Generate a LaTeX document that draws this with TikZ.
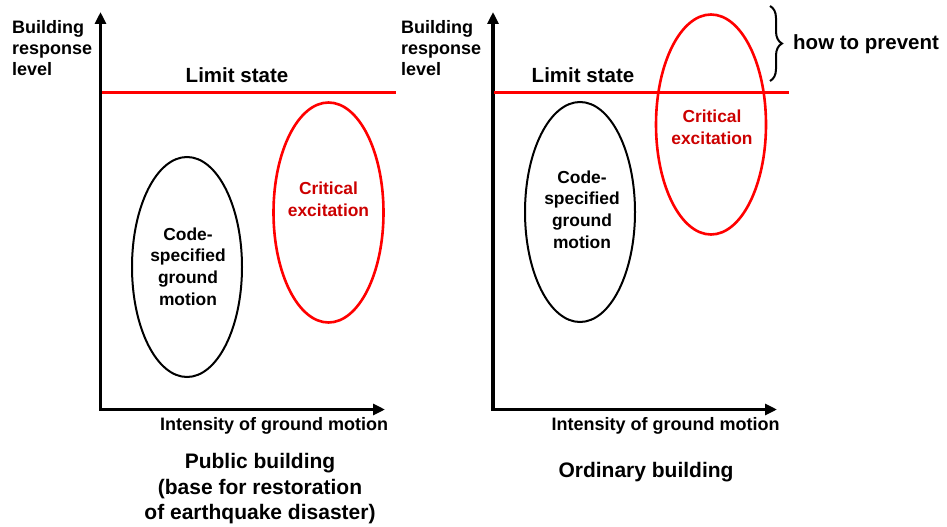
\documentclass[tikz,border=0pt]{standalone}
\usepackage{fontspec}
\setmainfont{Liberation Sans}
\usetikzlibrary{arrows.meta,shapes.geometric,decorations.pathreplacing}
\definecolor{limred}{RGB}{255,0,0}
\definecolor{txtred}{RGB}{204,0,0}
\tikzset{
  axis/.style={line width=3.5pt,line join=miter,{Triangle[length=12pt,width=11pt]}-{Triangle[length=12pt,width=11pt]}},
  limitline/.style={draw=limred,line width=3pt},
  codeell/.style={ellipse,draw=black,line width=2pt,minimum width=110pt,minimum height=220pt,inner sep=0pt},
  critell/.style={ellipse,draw=limred,line width=2.6pt,minimum width=110pt,minimum height=220pt,inner sep=0pt},
  big/.style={font=\bfseries\fontsize{20.5}{25}\selectfont,inner sep=0pt},
  bottomtxt/.style={font=\bfseries\fontsize{21}{25.5}\selectfont,inner sep=0pt,align=center},
  mid/.style={font=\bfseries\fontsize{18}{21}\selectfont,inner sep=0pt},
  elltxt/.style={font=\bfseries\fontsize{17.4}{21.6}\selectfont,inner sep=0pt,align=center},
}
\begin{document}
\begin{tikzpicture}[x=1pt,y=-1pt]
\useasboundingbox (0,0) rectangle (947,527);
% ---------- left panel ----------
\coordinate (yL) at (100.5,12);
\coordinate (xL) at (385,409.5);
\draw[axis] (yL) |- (xL);
\coordinate (lsL1) at (102,92);
\coordinate (lsL2) at (396,92);
\draw[limitline] (lsL1) -- (lsL2);
\node[big,anchor=base] (limL) at (237,82) {Limit state};
\node[mid,anchor=north west,align=left] (brlL) at (12,20.5) {Building\\response\\level};
\node[mid,anchor=base] (intL) at (274,430) {Intensity of ground motion};
\node[codeell] (codeL) at (187,267) {};
\node[elltxt,anchor=north] (codeLt) at (188,227.5) {Code-\\specified\\ground\\motion};
\node[critell] (critL) at (328.5,212.5) {};
\node[elltxt,anchor=north,text=txtred] (critLt) at (328.5,182) {Critical\\excitation};
\node[bottomtxt,anchor=north] (pubL) at (260,453.5) {Public building\\(base for restoration\\of earthquake disaster)};
% ---------- right panel ----------
\coordinate (yR) at (493,12);
\coordinate (xR) at (777,409.5);
\draw[axis] (yR) |- (xR);
\coordinate (lsR1) at (494,92);
\coordinate (lsR2) at (789,92);
\draw[limitline] (lsR1) -- (lsR2);
\node[big,anchor=base] (limR) at (583,82) {Limit state};
\node[mid,anchor=north west,align=left] (brlR) at (401,20.5) {Building\\response\\level};
\node[mid,anchor=base] (intR) at (665.5,430) {Intensity of ground motion};
\node[codeell] (codeR) at (580,212) {};
\node[elltxt,anchor=north] (codeRt) at (582,170.5) {Code-\\specified\\ground\\motion};
\node[critell] (critR) at (711,124.5) {};
\node[elltxt,anchor=north,text=txtred] (critRt) at (712,110) {Critical\\excitation};
\node[bottomtxt,anchor=base] (ordR) at (646,477) {Ordinary building};
% brace
\coordinate (brT) at (770,6);
\coordinate (brB) at (770,81);
\draw[line width=2pt,decorate,decoration={brace,amplitude=12pt}] (brT) -- (brB);
\node[big,anchor=base west] (prev) at (793,50) {how to prevent};
\end{tikzpicture}
\end{document}
